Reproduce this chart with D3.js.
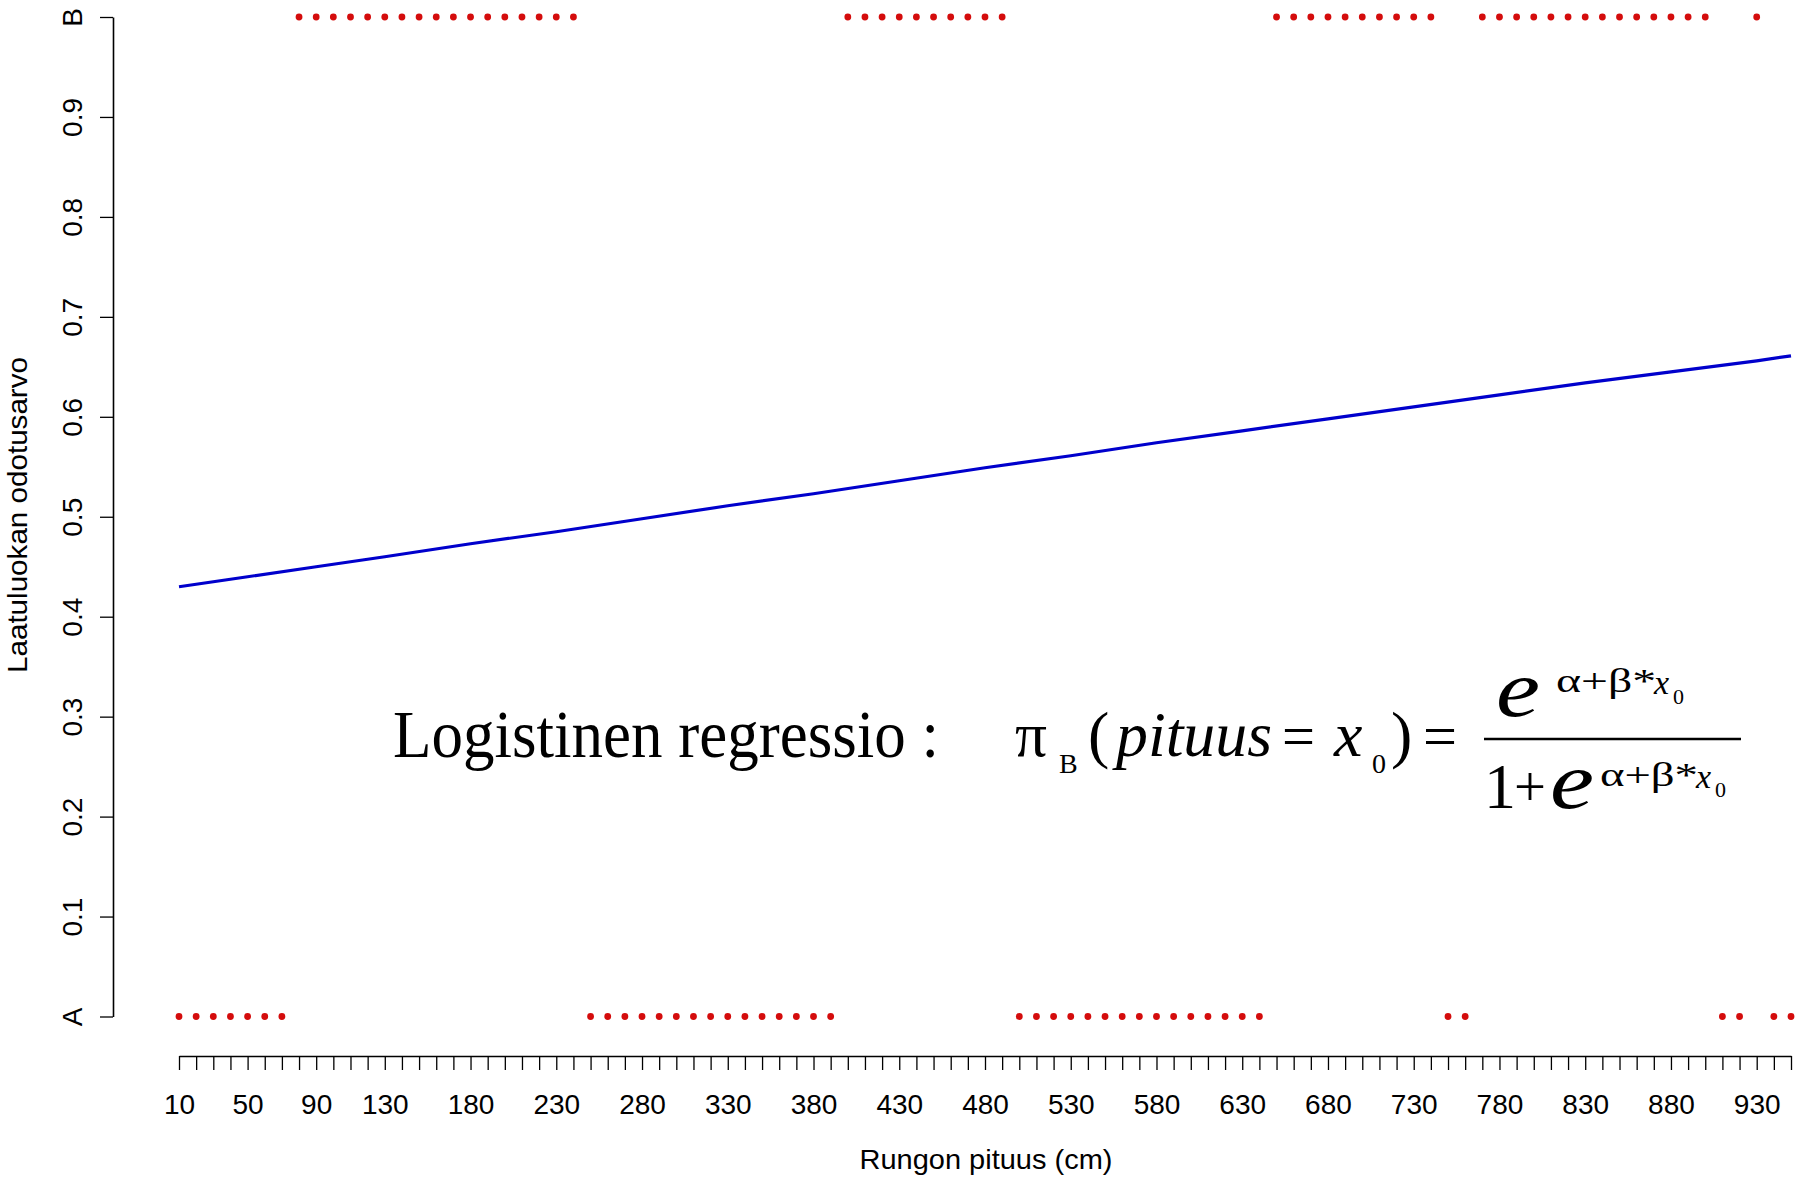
<!DOCTYPE html>
<html>
<head>
<meta charset="utf-8">
<script src="https://cdn.jsdelivr.net/npm/d3@7"></script>
<style>
  html, body { margin: 0; padding: 0; background: #fff; }
  svg { display: block; }
</style>
</head>
<body>
<svg id="chart" width="1814" height="1178"></svg>
<script>
// ---- data ----
const pituus = [10,20,30,40,50,60,70,80,90,100,110,120,130,140,150,160,170,180,190,200,
  210,220,230,240,250,260,270,280,290,300,310,320,330,340,350,360,370,380,390,400,
  410,420,430,440,450,460,470,480,490,500,510,520,530,540,550,560,570,580,590,600,
  610,620,630,640,650,660,670,680,690,700,710,720,730,740,750,760,770,780,790,800,
  810,820,830,840,850,860,870,880,890,900,910,920,930,940,950];
const laatuluokka = [
  "A","A","A","A","A","A","A",
  "B","B","B","B","B","B","B","B","B","B","B","B","B","B","B","B","B",
  "A","A","A","A","A","A","A","A","A","A","A","A","A","A","A",
  "B","B","B","B","B","B","B","B","B","B",
  "A","A","A","A","A","A","A","A","A","A","A","A","A","A","A",
  "B","B","B","B","B","B","B","B","B","B",
  "A","A",
  "B","B","B","B","B","B","B","B","B","B","B","B","B","B",
  "A","A",
  "B",
  "A","A"];
const luokkaArvo = { A: 0, B: 1 };

// fitted logistic curve
const curveX = [10,50,90,130,180,230,280,330,380,430,480,530,580,630,680,730,780,830,880,930,950];
const curveY = [0.430,0.440,0.450,0.460,0.473,0.485,0.498,0.511,0.523,0.536,0.549,0.561,0.574,0.586,0.598,0.610,0.622,0.634,0.645,0.656,0.661];

const xTickLabels = [10,50,90,130,180,230,280,330,380,430,480,530,580,630,680,730,780,830,880,930];
const yTickValues = [0,0.1,0.2,0.3,0.4,0.5,0.6,0.7,0.8,0.9,1];
const yTickLabels = ["A","0.1","0.2","0.3","0.4","0.5","0.6","0.7","0.8","0.9","B"];

const xTitle = "Rungon pituus (cm)";
const yTitle = "Laatuluokan odotusarvo";

// ---- drawing ----
const svg = d3.select("#chart");
const sans = "'Liberation Sans', Arial, sans-serif";
const serif = "'Liberation Serif', 'Times New Roman', serif";

const x = d3.scaleLinear().domain([10, 950]).range([179, 1791]);
const y = d3.scaleLinear().domain([0, 1]).range([1016.5, 17]);

// x axis
const xAxis = d3.axisBottom(x)
  .tickValues(d3.range(10, 951, 10))
  .tickSize(14)
  .tickSizeOuter(0)
  .tickFormat(d => xTickLabels.includes(d) ? String(d) : "");
const gx = svg.append("g").attr("transform", "translate(0,1056)").call(xAxis);
gx.select(".domain").attr("stroke", "#000").attr("stroke-width", 1.6);
gx.selectAll(".tick line").attr("stroke", "#000").attr("stroke-width", 1.3);
gx.selectAll(".tick text")
  .attr("y", 58).attr("dy", 0)
  .attr("font-family", sans).attr("font-size", 28).attr("fill", "#000");

// y axis
const yAxis = d3.axisLeft(y)
  .tickValues(yTickValues)
  .tickSize(13)
  .tickSizeOuter(0)
  .tickFormat((d, i) => yTickLabels[i]);
const gy = svg.append("g").attr("transform", "translate(113,0)").call(yAxis);
gy.select(".domain").attr("stroke", "#000").attr("stroke-width", 1.6);
gy.selectAll(".tick line").attr("stroke", "#000").attr("stroke-width", 1.3);
gy.selectAll(".tick text")
  .attr("transform", "rotate(-90)")
  .attr("x", 0).attr("y", -31).attr("dy", 0)
  .attr("text-anchor", "middle")
  .attr("font-family", sans).attr("font-size", 28).attr("fill", "#000");

// axis titles
svg.append("text")
  .attr("x", 986).attr("y", 1169)
  .attr("text-anchor", "middle")
  .attr("font-family", sans).attr("font-size", 28)
  .attr("textLength", 253).attr("lengthAdjust", "spacingAndGlyphs")
  .text(xTitle);
svg.append("text")
  .attr("transform", "translate(27,515) rotate(-90)")
  .attr("text-anchor", "middle")
  .attr("font-family", sans).attr("font-size", 28)
  .attr("textLength", 316).attr("lengthAdjust", "spacingAndGlyphs")
  .text(yTitle);

// fitted curve
const line = d3.line().x((d, i) => x(d)).y((d, i) => y(curveY[i]));
svg.append("path")
  .datum(curveX)
  .attr("d", line)
  .attr("fill", "none")
  .attr("stroke", "#0000cc")
  .attr("stroke-width", 3.2);

// observations
svg.append("g").selectAll("circle")
  .data(pituus.map((p, i) => ({ p, c: laatuluokka[i] })))
  .join("circle")
  .attr("cx", d => x(d.p))
  .attr("cy", d => y(luokkaArvo[d.c]))
  .attr("r", 3.4)
  .attr("fill", "#d40c0c");

// formula annotation
const f = svg.append("g").attr("font-family", serif).attr("fill", "#000");
function t(str, px, py, size, opts = {}) {
  const el = f.append("text").attr("x", px).attr("y", py).attr("font-size", size).text(str);
  if (opts.italic) el.attr("font-style", "italic");
  if (opts.len) el.attr("textLength", opts.len).attr("lengthAdjust", "spacingAndGlyphs");
  return el;
}
t("Logistinen regressio :", 393, 757, 68, { len: 546 });
t("\u03C0", 1015, 756, 64, { len: 32 });
t("B", 1059, 773, 28);
t("(", 1088, 756, 64);
t("pituus", 1116, 756, 64, { italic: true, len: 156 });
t("=", 1282, 756, 60, { len: 33 });
t("x", 1334, 756, 64, { italic: true });
t("0", 1372, 773, 28);
t(")", 1391, 756, 64);
t("=", 1423, 756, 60, { len: 34 });
f.append("line").attr("x1", 1484).attr("x2", 1741).attr("y1", 739).attr("y2", 739)
  .attr("stroke", "#000").attr("stroke-width", 2.4);
// numerator
t("e", 1496, 716, 80, { italic: true, len: 44 });
t("\u03B1+\u03B2*", 1556, 692, 34, { len: 100 });
t("x", 1654, 694, 34, { italic: true });
t("0", 1673, 704, 22);
// denominator
t("1", 1484, 808, 64);
t("+", 1514, 806, 56, { len: 32 });
t("e", 1550, 808, 80, { italic: true, len: 44 });
t("\u03B1+\u03B2*", 1600, 786, 34, { len: 98 });
t("x", 1696, 788, 34, { italic: true });
t("0", 1715, 797, 22);
</script>
</body>
</html>
